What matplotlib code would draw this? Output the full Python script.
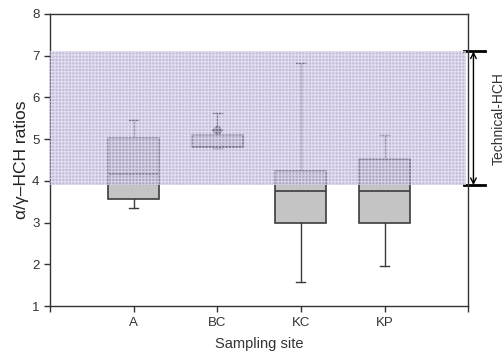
import matplotlib
matplotlib.use("Agg")
import matplotlib.pyplot as plt
from matplotlib.patches import Rectangle

plt.rcParams['font.family'] = ['Liberation Sans', 'DejaVu Sans']
plt.rcParams['hatch.linewidth'] = 0.8

# box statistics
sites = ["A", "BC", "KC", "KP"]
whisker_low = [3.35, 4.78, 1.58, 1.95]
q1 = [3.56, 4.81, 3.00, 3.00]
median = [4.16, 4.82, 3.76, 3.76]
q3 = [5.03, 5.10, 4.24, 4.52]
whisker_high = [5.46, 5.62, 6.82, 5.10]
bc_mean = 5.22

# technical HCH range
tech_low = 3.9
tech_high = 7.1

fig = plt.figure(figsize=(5.04, 3.56), dpi=100)
ax = fig.add_axes([0.099, 0.140, 0.830, 0.821])

stats = []
for i, s in enumerate(sites):
    stats.append({"label": s, "whislo": whisker_low[i], "q1": q1[i], "med": median[i],
                  "q3": q3[i], "whishi": whisker_high[i], "fliers": []})

ax.bxp(stats, positions=[1, 2, 3, 4], widths=0.61, capwidths=0.11,
       showfliers=False, patch_artist=True,
       boxprops=dict(facecolor='#c4c4c4', edgecolor='#3c3c3c', linewidth=1.2),
       medianprops=dict(color='#3c3c3c', linewidth=1.2),
       whiskerprops=dict(color='#3c3c3c', linewidth=1.0),
       capprops=dict(color='#3c3c3c', linewidth=1.0))
ax.plot([2], [bc_mean], marker='D', color='#2c2c2c', markersize=5, zorder=4)

# shaded technical-HCH band: lavender fill with a white grid on top
ax.add_patch(Rectangle((0, tech_low), 4.97, tech_high - tech_low, facecolor='#9c8cc4',
                       linewidth=0, alpha=0.6, zorder=5))
ax.add_patch(Rectangle((0, tech_low), 4.97, tech_high - tech_low, facecolor='none',
                       edgecolor='white', hatch='+++++', linewidth=0, alpha=0.55, zorder=6))

ax.set_xlim(0, 5)
ax.set_ylim(1, 8)
ax.set_xticks([0, 1, 2, 3, 4, 5])
ax.set_xticklabels(["", "A", "BC", "KC", "KP", ""])
ax.set_yticks(range(1, 9))
ax.tick_params(direction='out', length=4, width=1, color='#333333', labelsize=9.5,
               labelcolor='#333333')
for sp in ax.spines.values():
    sp.set_color('#333333')
    sp.set_linewidth(1.0)

ax.set_xlabel("Sampling site", fontsize=10.5, color='#333333', labelpad=6)
ax.set_ylabel("α/γ–HCH ratios", fontsize=12.5, color='#222222', labelpad=2)

# bracket on the right
tr = ax.get_yaxis_transform()
ax.plot([0.99, 1.04], [tech_high, tech_high], transform=tr, color='black', lw=2, clip_on=False)
ax.plot([0.99, 1.04], [tech_low, tech_low], transform=tr, color='black', lw=2, clip_on=False)
ax.annotate("", xy=(1.0125, tech_high), xytext=(1.0125, tech_low), xycoords=tr, textcoords=tr,
            arrowprops=dict(arrowstyle='<->', color='black', lw=1.0, shrinkA=0, shrinkB=0))
ax.text(1.072, (tech_low + tech_high) / 2, "Technical-HCH", transform=tr, rotation=90,
        ha='center', va='center', fontsize=10, color='#333333')

fig.savefig("out.png", dpi=100)
